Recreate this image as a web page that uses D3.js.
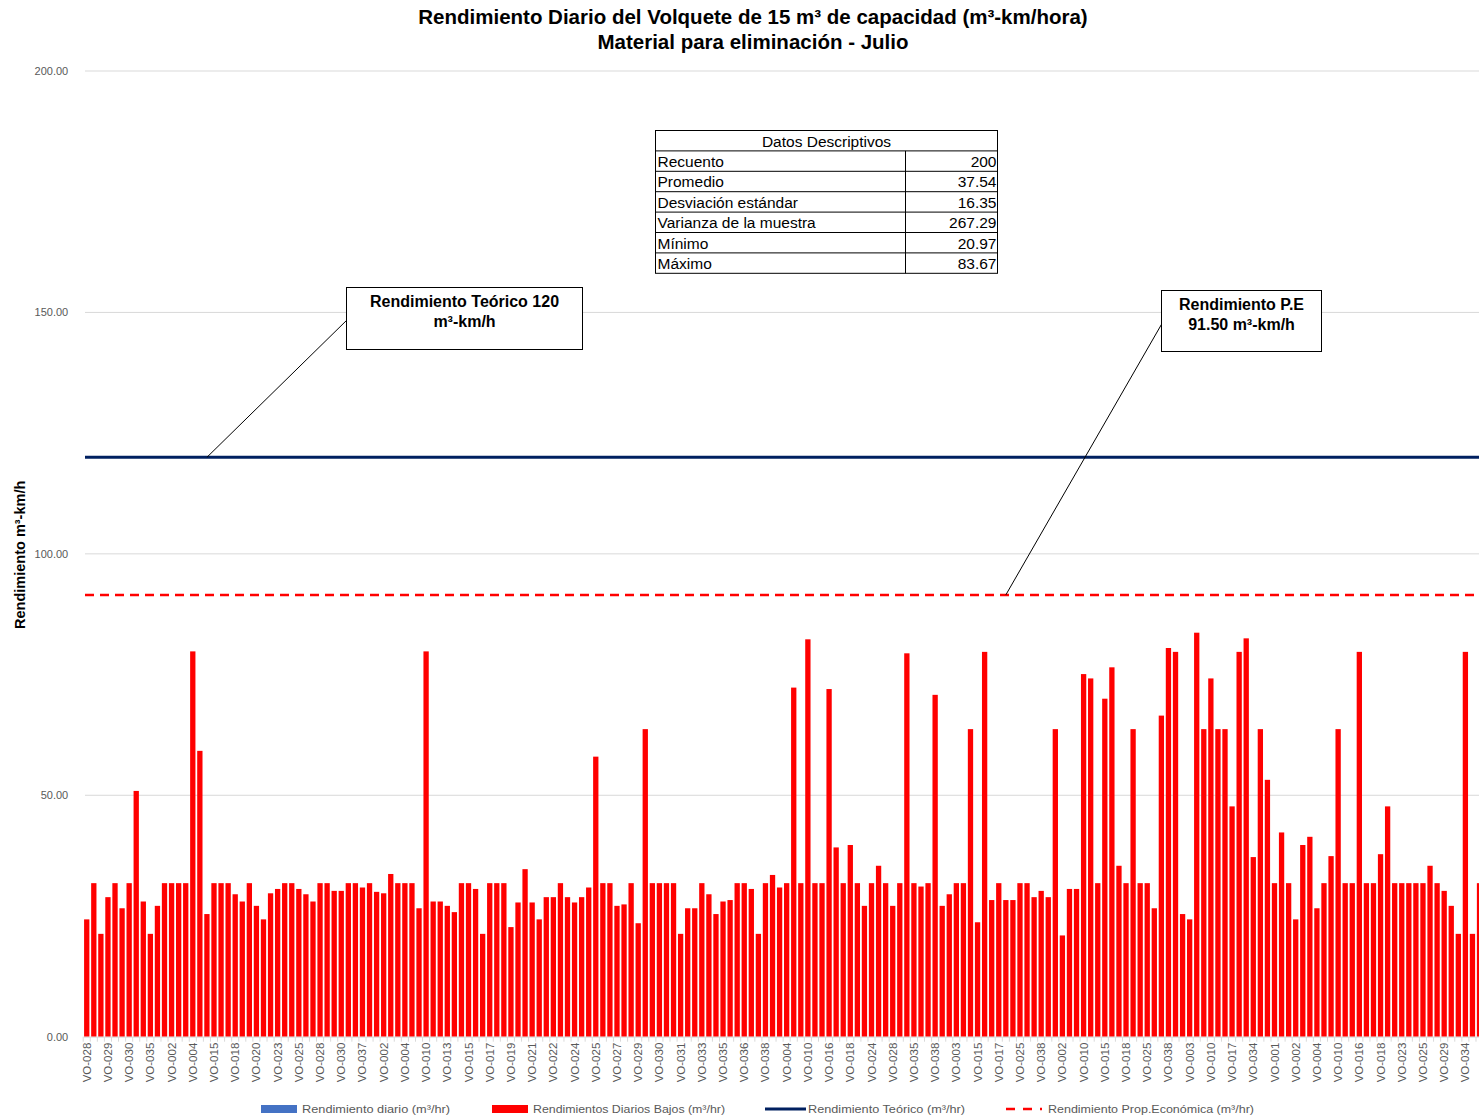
<!DOCTYPE html>
<html lang="es">
<head>
<meta charset="utf-8">
<title>Rendimiento Diario del Volquete - Julio</title>
<script src="https://cdn.jsdelivr.net/npm/d3@7"></script>
<style>
  html, body { margin: 0; padding: 0; background: #fff; overflow: hidden; }
  svg { display: block; font-family: "Liberation Sans", Arial, sans-serif; }
</style>
</head>
<body>
<svg id="chart" width="1479" height="1119"></svg>
<script>
// Daily output per trip (m³-km/h), in the order the trips were logged
const dailyValues = [
  24.3, 31.8, 21.3, 28.9, 31.8, 26.6, 31.8, 50.9, 28.0, 21.3,
  27.1, 31.8, 31.8, 31.8, 31.8, 79.8, 59.2, 25.4, 31.8, 31.8,
  31.8, 29.5, 28.0, 31.8, 27.1, 24.3, 29.7, 30.6, 31.8, 31.8,
  30.6, 29.5, 28.0, 31.8, 31.8, 30.2, 30.2, 31.8, 31.8, 30.9,
  31.8, 30.0, 29.7, 33.7, 31.8, 31.8, 31.8, 26.6, 79.8, 28.0,
  28.0, 27.1, 25.8, 31.8, 31.8, 30.6, 21.3, 31.8, 31.8, 31.8,
  22.7, 27.8, 34.7, 27.8, 24.3, 28.9, 28.9, 31.8, 28.9, 27.8,
  28.9, 30.9, 58.0, 31.8, 31.8, 27.1, 27.4, 31.8, 23.5, 63.7,
  31.8, 31.8, 31.8, 31.8, 21.3, 26.6, 26.6, 31.8, 29.5, 25.4,
  28.0, 28.3, 31.8, 31.8, 30.6, 21.3, 31.8, 33.5, 30.9, 31.8,
  72.3, 31.8, 82.3, 31.8, 31.8, 72.0, 39.2, 31.8, 39.7, 31.8,
  27.1, 31.8, 35.4, 31.8, 27.1, 31.8, 79.4, 31.8, 31.1, 31.8,
  70.8, 27.1, 29.5, 31.8, 31.8, 63.7, 23.7, 79.7, 28.3, 31.8,
  28.3, 28.3, 31.8, 31.8, 28.9, 30.2, 28.9, 63.7, 20.97, 30.6,
  30.6, 75.1, 74.2, 31.8, 70.0, 76.5, 35.4, 31.8, 63.7, 31.8,
  31.8, 26.6, 66.5, 80.5, 79.7, 25.4, 24.3, 83.67, 63.7, 74.2,
  63.7, 63.7, 47.7, 79.7, 82.5, 37.2, 63.7, 53.2, 31.8, 42.3,
  31.8, 24.3, 39.7, 41.4, 26.6, 31.8, 37.4, 63.7, 31.8, 31.8,
  79.7, 31.8, 31.8, 37.8, 47.7, 31.8, 31.8, 31.8, 31.8, 31.8,
  35.4, 31.8, 30.2, 27.1, 21.3, 79.7, 21.3, 31.8
];

// Truck codes printed on the category axis (one every third trip)
const truckLabels = [
  "VO-028", "VO-029", "VO-030", "VO-035", "VO-002", "VO-004", "VO-015", "VO-018", "VO-020", "VO-023",
  "VO-025", "VO-028", "VO-030", "VO-037", "VO-002", "VO-004", "VO-010", "VO-013", "VO-015", "VO-017",
  "VO-019", "VO-021", "VO-022", "VO-024", "VO-025", "VO-027", "VO-029", "VO-030", "VO-031", "VO-033",
  "VO-035", "VO-036", "VO-038", "VO-004", "VO-010", "VO-016", "VO-018", "VO-024", "VO-028", "VO-035",
  "VO-038", "VO-003", "VO-015", "VO-017", "VO-025", "VO-038", "VO-002", "VO-010", "VO-015", "VO-018",
  "VO-025", "VO-038", "VO-003", "VO-010", "VO-017", "VO-034", "VO-001", "VO-002", "VO-004", "VO-010",
  "VO-016", "VO-018", "VO-023", "VO-025", "VO-029", "VO-034"
];
const labelEvery = 3;

// Reference levels (m³-km/h)
const theoreticalOutput = 120;
const breakEvenOutput = 91.5;

const yTicks = [0, 50, 100, 150, 200];

// Descriptive statistics table
const statNames = ["Recuento", "Promedio", "Desviación estándar", "Varianza de la muestra", "Mínimo", "Máximo"];
const statValues = ["200", "37.54", "16.35", "267.29", "20.97", "83.67"];

const legendNames = [
  "Rendimiento diario (m³/hr)",
  "Rendimientos Diarios Bajos (m³/hr)",
  "Rendimiento Teórico (m³/hr)",
  "Rendimiento Prop.Económica (m³/hr)"
];

// ---------------------------------------------------------------
const svg = d3.select("#chart");
const plotLeft = 83.2, step = 7.07;
const plotTop = 71, plotBottom = 1036.7;
const plotRight = plotLeft + step * dailyValues.length;

const x = d3.scaleBand()
  .domain(d3.range(dailyValues.length))
  .range([plotLeft, plotRight])
  .paddingInner(0.25)
  .paddingOuter(0.125);

const y = d3.scaleLinear().domain([0, 200]).range([plotBottom, plotTop]);
const cx = i => x(i) + x.bandwidth() / 2;

const GRID = "#d9d9d9", AXIS_TXT = "#595959";
const RED = "#ff0000", BLUE = "#4472c4", NAVY = "#002060";

// Title
const title = svg.append("text")
  .attr("text-anchor", "middle")
  .attr("font-weight", "bold").attr("font-size", 20.5).attr("fill", "#000");
title.append("tspan").attr("x", 753).attr("y", 24)
  .text("Rendimiento Diario del Volquete de 15 m³ de capacidad (m³-km/hora)");
title.append("tspan").attr("x", 753).attr("y", 49)
  .text("Material para eliminación - Julio");

// Gridlines and value axis
svg.append("g").selectAll("line").data(yTicks.filter(d => d > 0)).join("line")
  .attr("x1", 85).attr("x2", plotRight)
  .attr("y1", d => y(d)).attr("y2", d => y(d))
  .attr("stroke", GRID).attr("stroke-width", 1);

const yAxis = svg.append("g")
  .attr("transform", `translate(${plotLeft - 12},0)`)
  .call(d3.axisLeft(y).tickValues(yTicks).tickFormat(d3.format(".2f")).tickSize(0));
yAxis.select(".domain").remove();
yAxis.selectAll("text").attr("fill", AXIS_TXT).attr("font-size", 11)
  .attr("font-family", "'Liberation Sans', Arial, sans-serif");

svg.append("text")
  .attr("transform", `translate(25,${(plotTop + plotBottom) / 2 + 1}) rotate(-90)`)
  .attr("text-anchor", "middle")
  .attr("font-weight", "bold").attr("font-size", 14.5)
  .text("Rendimiento m³-km/h");

// Bars: values at or above the break-even level go blue, the rest red
svg.append("g").selectAll("rect").data(dailyValues).join("rect")
  .attr("x", (d, i) => x(i))
  .attr("width", x.bandwidth())
  .attr("y", d => y(d))
  .attr("height", d => y(0) - y(d))
  .attr("fill", d => d >= breakEvenOutput ? BLUE : RED);

// Category axis
const xAxis = svg.append("g")
  .attr("transform", `translate(0,${plotBottom})`)
  .call(d3.axisBottom(x)
    .tickValues(d3.range(0, dailyValues.length, labelEvery).filter(i => truckLabels[i / labelEvery]))
    .tickFormat(i => truckLabels[i / labelEvery])
    .tickSize(0));
xAxis.select(".domain").attr("stroke", GRID);
xAxis.selectAll("text")
  .attr("transform", "rotate(-90)")
  .attr("text-anchor", "end")
  .attr("x", -6).attr("y", 0).attr("dy", "0.35em")
  .attr("fill", AXIS_TXT).attr("font-size", 11.5)
  .attr("font-family", "'Liberation Sans', Arial, sans-serif");

// Category boundary tick marks
svg.append("g").selectAll("line").data(d3.range(dailyValues.length + 1)).join("line")
  .attr("x1", i => plotLeft + i * x.step()).attr("x2", i => plotLeft + i * x.step())
  .attr("y1", plotBottom).attr("y2", plotBottom + 5)
  .attr("stroke", GRID);

// Reference lines
svg.append("line")
  .attr("x1", 85).attr("x2", plotRight)
  .attr("y1", y(theoreticalOutput)).attr("y2", y(theoreticalOutput))
  .attr("stroke", NAVY).attr("stroke-width", 3);
svg.append("line")
  .attr("x1", 85).attr("x2", plotRight)
  .attr("y1", y(breakEvenOutput)).attr("y2", y(breakEvenOutput))
  .attr("stroke", RED).attr("stroke-width", 2.5)
  .attr("stroke-dasharray", "9,6");

// Callouts pointing at the reference lines
function callout(bx, by, bw, bh, lines, anchorIndex, anchorValue, fromX, fromY) {
  svg.append("line")
    .attr("x1", fromX).attr("y1", fromY)
    .attr("x2", cx(anchorIndex)).attr("y2", y(anchorValue))
    .attr("stroke", "#000").attr("stroke-width", 1);
  svg.append("rect")
    .attr("x", bx).attr("y", by).attr("width", bw).attr("height", bh)
    .attr("fill", "#fff").attr("stroke", "#000").attr("stroke-width", 1);
  const t = svg.append("text")
    .attr("text-anchor", "middle").attr("font-weight", "bold").attr("font-size", 16);
  lines.forEach((s, k) => t.append("tspan")
    .attr("x", bx + bw / 2).attr("y", by + 19 + k * 20).text(s));
}
callout(346.5, 287.5, 236, 62, ["Rendimiento Teórico 120", "m³-km/h"],
  17, theoreticalOutput, 349, 318);
callout(1161.5, 290.5, 160, 61, ["Rendimiento P.E", "91.50 m³-km/h"],
  130, breakEvenOutput, 1164, 320);

// Statistics table
const tb = { x: 655.5, y: 130.5, w: 342, colSplit: 905.5, rowH: 20.4 };
const tg = svg.append("g").attr("font-size", 15.5);
tg.append("rect").attr("x", tb.x).attr("y", tb.y)
  .attr("width", tb.w).attr("height", tb.rowH * (statNames.length + 1))
  .attr("fill", "#fff").attr("stroke", "#000").attr("stroke-width", 1);
tg.append("text").attr("x", tb.x + tb.w / 2).attr("y", tb.y + 16)
  .attr("text-anchor", "middle").text("Datos Descriptivos");
statNames.forEach((name, k) => {
  const ry = tb.y + tb.rowH * (k + 1);
  tg.append("line").attr("x1", tb.x).attr("x2", tb.x + tb.w)
    .attr("y1", ry).attr("y2", ry).attr("stroke", "#000");
  tg.append("text").attr("x", tb.x + 2).attr("y", ry + 16).text(name);
  tg.append("text").attr("x", tb.x + tb.w - 1).attr("y", ry + 16)
    .attr("text-anchor", "end").text(statValues[k]);
});
tg.append("line").attr("x1", tb.colSplit).attr("x2", tb.colSplit)
  .attr("y1", tb.y + tb.rowH).attr("y2", tb.y + tb.rowH * (statNames.length + 1))
  .attr("stroke", "#000");

// Legend
const ly = 1109;
const legendItems = [
  { x: 261, textX: 302, width: 148 },
  { x: 492, textX: 533, width: 192 },
  { x: 765, textX: 808, width: 157 },
  { x: 1006, textX: 1048, width: 206 }
];
const lg = svg.append("g").attr("font-size", 11).attr("fill", AXIS_TXT);
lg.append("rect").attr("x", legendItems[0].x).attr("y", ly - 4).attr("width", 36).attr("height", 8).attr("fill", BLUE);
lg.append("rect").attr("x", legendItems[1].x).attr("y", ly - 4).attr("width", 36).attr("height", 8).attr("fill", RED);
lg.append("line").attr("x1", legendItems[2].x).attr("x2", legendItems[2].x + 41).attr("y1", ly).attr("y2", ly)
  .attr("stroke", NAVY).attr("stroke-width", 3);
lg.append("line").attr("x1", legendItems[3].x).attr("x2", legendItems[3].x + 36).attr("y1", ly).attr("y2", ly)
  .attr("stroke", RED).attr("stroke-width", 2.5).attr("stroke-dasharray", "9,8");
legendItems.forEach((it, k) => lg.append("text")
  .attr("x", it.textX).attr("y", ly + 4)
  .attr("textLength", it.width).attr("lengthAdjust", "spacingAndGlyphs")
  .text(legendNames[k]));
</script>
</body>
</html>
